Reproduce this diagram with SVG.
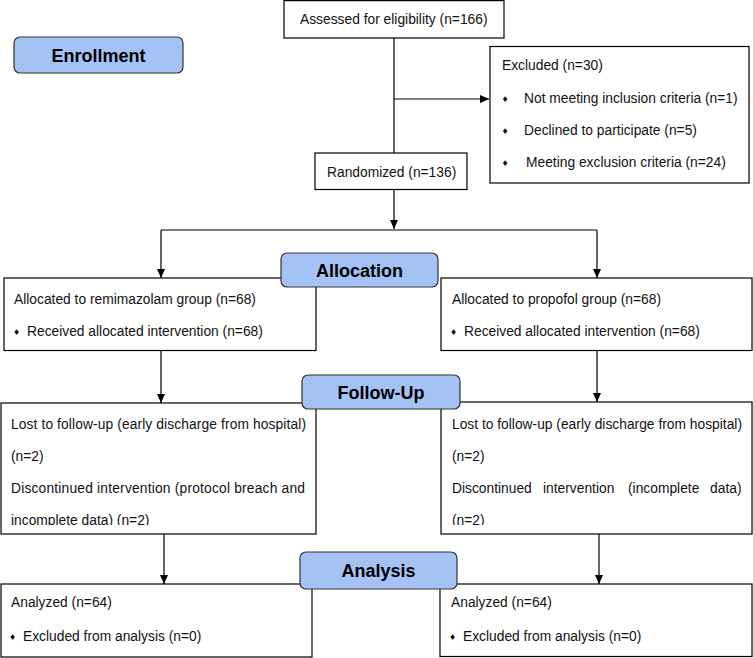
<svg xmlns="http://www.w3.org/2000/svg" width="753" height="658" viewBox="0 0 753 658">
<style>
.box{fill:#fff;stroke:#000;stroke-width:1.2}
.hd{fill:#a4c2f4;stroke:#333;stroke-width:1.2}
.t{font-family:"Liberation Sans",Arial,sans-serif;font-size:13.8px;fill:#111}
.h{font-family:"Liberation Sans",Arial,sans-serif;font-size:18px;font-weight:bold;fill:#000;text-anchor:middle}
.b{font-family:"DejaVu Sans","Liberation Sans",sans-serif;font-size:8px;fill:#111}
.c{fill:none;stroke:#000;stroke-width:1.2}
</style>
<defs>
<marker id="ar" markerUnits="userSpaceOnUse" markerWidth="10" markerHeight="10" viewBox="0 0 10 10" refX="9" refY="5" orient="auto">
<path d="M0,1 L9,5 L0,9 z" fill="#000"/>
</marker>
<clipPath id="clipL"><rect x="0" y="403" width="320" height="122"/></clipPath>
<clipPath id="clipR"><rect x="440" y="403" width="313" height="122"/></clipPath>
</defs>

<g id="connectors">
<line class="c" x1="394" y1="38" x2="394" y2="153"/>
<line class="c" x1="394" y1="99" x2="489" y2="99" marker-end="url(#ar)"/>
<line class="c" x1="394" y1="190" x2="394" y2="229" marker-end="url(#ar)"/>
<line class="c" x1="161" y1="230" x2="597" y2="230"/>
<line class="c" x1="161" y1="230" x2="161" y2="278" marker-end="url(#ar)"/>
<line class="c" x1="597" y1="230" x2="597" y2="278" marker-end="url(#ar)"/>
<line class="c" x1="161" y1="350" x2="161" y2="403" marker-end="url(#ar)"/>
<line class="c" x1="597" y1="350" x2="597" y2="402" marker-end="url(#ar)"/>
<line class="c" x1="164" y1="534" x2="164" y2="584" marker-end="url(#ar)"/>
<line class="c" x1="599" y1="534" x2="599" y2="584" marker-end="url(#ar)"/>
</g>

<g id="enrollment">
<rect class="hd" x="14" y="37" width="169" height="36" rx="6"/>
<text class="h" x="98.5" y="61.5">Enrollment</text>
</g>

<g id="assessed">
<rect class="box" x="284" y="0.6" width="220" height="37.4"/>
<text class="t" x="300" y="23.5">Assessed for eligibility (n=166)</text>
</g>

<g id="excluded">
<rect class="box" x="490" y="46.5" width="259" height="136.5"/>
<text class="t" x="502" y="70">Excluded (n=30)</text>
<text class="b" x="501.5" y="102">♦</text>
<text class="t" x="524" y="103">Not meeting inclusion criteria (n=1)</text>
<text class="b" x="501.5" y="134">♦</text>
<text class="t" x="524" y="135">Declined to participate (n=5)</text>
<text class="b" x="501.5" y="166">♦</text>
<text class="t" x="526" y="167">Meeting exclusion criteria (n=24)</text>
</g>

<g id="randomized">
<rect class="box" x="315" y="153" width="152" height="36.5"/>
<text class="t" x="327" y="177">Randomized (n=136)</text>
</g>

<g id="alloc-left">
<rect class="box" x="4" y="278" width="312" height="72.5"/>
<text class="t" x="14" y="303.5">Allocated to remimazolam group (n=68)</text>
<text class="b" x="13" y="334.5">♦</text>
<text class="t" x="27" y="335.5">Received allocated intervention (n=68)</text>
</g>

<g id="alloc-right">
<rect class="box" x="441" y="278" width="311" height="72.5"/>
<text class="t" x="452" y="303.5">Allocated to propofol group (n=68)</text>
<text class="b" x="450" y="334.5">♦</text>
<text class="t" x="464" y="335.5">Received allocated intervention (n=68)</text>
</g>

<g id="allocation">
<rect class="hd" x="281" y="253" width="157" height="34" rx="6"/>
<text class="h" x="359.5" y="277">Allocation</text>
</g>

<g id="follow-left">
<rect class="box" x="1" y="403" width="315" height="131"/>
<g clip-path="url(#clipL)">
<text class="t" x="11" y="429" textLength="295" lengthAdjust="spacing">Lost to follow-up (early discharge from hospital)</text>
<text class="t" x="11" y="461">(n=2)</text>
<text class="t" x="11" y="493" textLength="294" lengthAdjust="spacing">Discontinued intervention (protocol breach and</text>
<text class="t" x="11" y="525">incomplete data) (n=2)</text>
</g>
</g>

<g id="follow-right">
<rect class="box" x="441" y="402" width="311" height="132"/>
<g clip-path="url(#clipR)">
<text class="t" x="452" y="429" textLength="290" lengthAdjust="spacing">Lost to follow-up (early discharge from hospital)</text>
<text class="t" x="452" y="461">(n=2)</text>
<text class="t" x="452" y="493">Discontinued</text>
<text class="t" x="543" y="493">intervention</text>
<text class="t" x="628" y="493">(incomplete</text>
<text class="t" x="741.5" y="493" text-anchor="end">data)</text>
<text class="t" x="452" y="525">(n=2)</text>
</g>
</g>

<g id="followup">
<rect class="hd" x="302" y="375" width="158" height="34" rx="6"/>
<text class="h" x="381" y="398.5">Follow-Up</text>
</g>

<g id="analysis-left">
<rect class="box" x="1" y="584" width="311" height="73"/>
<text class="t" x="11" y="607">Analyzed (n=64)</text>
<text class="b" x="9" y="640">♦</text>
<text class="t" x="23" y="641">Excluded from analysis (n=0)</text>
</g>

<g id="analysis-right">
<rect class="box" x="440" y="584" width="312" height="72.5"/>
<text class="t" x="451" y="607">Analyzed (n=64)</text>
<text class="b" x="449" y="640">♦</text>
<text class="t" x="463" y="641">Excluded from analysis (n=0)</text>
</g>

<g id="analysis">
<rect class="hd" x="300" y="552" width="157" height="37" rx="6"/>
<text class="h" x="378.5" y="577">Analysis</text>
</g>
</svg>
